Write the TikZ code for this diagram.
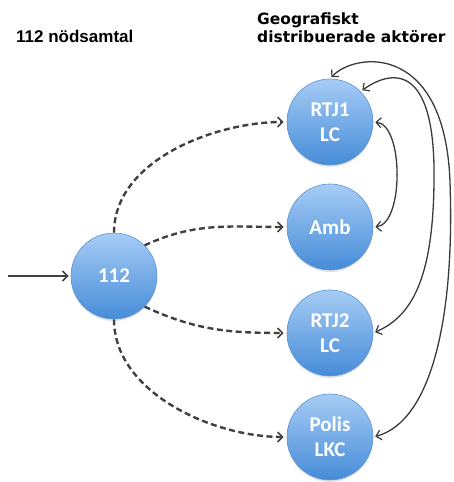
\documentclass[tikz,border=0pt]{standalone}
\usepackage{fontspec}
\setmainfont{Carlito}
\newfontfamily\headfont{DejaVu Sans}
\newfontfamily\callfont{Liberation Sans}
\usetikzlibrary{arrows.meta,shadows}

\definecolor{circtop}{RGB}{166,204,245}
\definecolor{circbot}{RGB}{70,140,216}
\definecolor{circrim}{RGB}{92,148,212}
\definecolor{linkgray}{RGB}{64,64,64}

\tikzset{
  actor/.style={circle, minimum size=86pt, inner sep=0pt,
    top color=circtop, bottom color=circbot, draw=circrim, line width=0.6pt,
    drop shadow={opacity=0.22, shadow xshift=0pt, shadow yshift=-2pt},
    text=white, align=center,
    font=\bfseries\fontsize{21}{25}\selectfont},
  tip/.style={-{Straight Barb[length=5pt,width=10pt,line width=1.6pt]}},
  callflow/.style={tip, draw=linkgray, line width=2.4pt,
    dash pattern=on 6pt off 3.5pt, shorten >=3pt},
  feedback/.style={{Straight Barb[length=5pt,width=10pt,line width=1.2pt]}-{Straight Barb[length=5pt,width=10pt,line width=1.2pt]},
    draw=linkgray!90!black, line width=1.3pt, shorten >=2pt, shorten <=2pt},
  heading/.style={inner sep=0pt, text=black}
}

\begin{document}
\begin{tikzpicture}[x=1pt,y=1pt]
  \useasboundingbox (0,0) rectangle (453,482);

  % headings
  \node[heading, anchor=base west, font=\callfont\bfseries\fontsize{17}{20}\selectfont]
    (calls) at (16,439) {112 nödsamtal};
  \node[heading, anchor=north west, align=left,
        font=\headfont\bfseries\fontsize{15.5}{18}\selectfont]
    (actors) at (257,469) {Geografiskt\\distribuerade aktörer};

  % nodes
  \node[actor] (c112)  at (114,206) {112};
  \node[actor] (rtj1)  at (330,360) {RTJ1\\LC};
  \node[actor] (amb)   at (330,255) {Amb};
  \node[actor] (rtj2)  at (330,149) {RTJ2\\LC};
  \node[actor] (polis) at (330,45)  {Polis\\LKC};

  % incoming call
  \coordinate (in) at (8,206);
  \draw[tip, draw=linkgray, line width=2pt, shorten >=2pt] (in) -- (c112.west);

  % dispatch from the 112 centre
  \draw[callflow] (c112.north) to[out=90, in=180, looseness=0.9] (rtj1.west);
  \draw[callflow] (c112.45) to[out=25, in=180] (amb.west);
  \draw[callflow] (c112.-45) to[out=-25, in=180] (rtj2.west);
  \draw[callflow] (c112.south) to[out=-90, in=180, looseness=0.9] (polis.west);

  % coordination between the distributed actors
  \draw[feedback] (rtj1.east) to[out=-5, in=5, looseness=0.75] (amb.east);
  \draw[feedback] (rtj1.45) .. controls (395,415) and (436,415) .. (434,300)
                  .. controls (433,200) and (410,165) .. (rtj2.east);
  \draw[feedback] (rtj1.north) .. controls (355,430) and (445,440) .. (450,300)
                  .. controls (455,160) and (430,60) .. (polis.east);
\end{tikzpicture}
\end{document}
